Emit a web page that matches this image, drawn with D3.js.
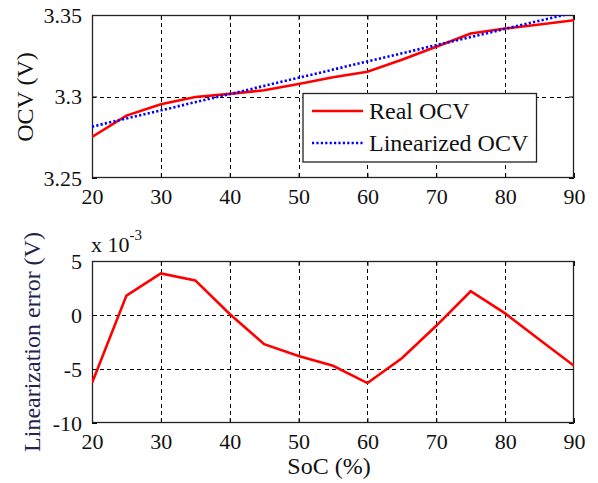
<!DOCTYPE html>
<html>
<head>
<meta charset="utf-8">
<script src="https://cdn.jsdelivr.net/npm/d3@7"></script>
<style>
  html, body { margin: 0; padding: 0; background: #fff; }
  svg { display: block; }
</style>
</head>
<body>
<svg id="chart" width="598" height="483"></svg>
<script>
// State of charge sample points (%)
const soc = [20, 25, 30, 35, 40, 45, 50, 55, 60, 65, 70, 75, 80, 85, 90];
// Measured open-circuit voltage (V)
const realOCV = [3.2752, 3.2883, 3.2953, 3.2997, 3.3016, 3.3038, 3.3077, 3.3118,
                 3.3152, 3.3225, 3.3305, 3.3387, 3.3417, 3.3442, 3.3468];
// Linear fit of the OCV curve (V)
const linOCV = [3.2815, 3.2865, 3.2915, 3.2965, 3.3015, 3.3065, 3.3115, 3.3165,
                3.3215, 3.3265, 3.3315, 3.3365, 3.3415, 3.3465, 3.3515];
// Linearization error, real minus linear (x 10^-3 V)
const linError = [-6.3, 1.8, 3.85, 3.2, 0.1, -2.7, -3.8, -4.7, -6.3, -4.0, -1.0, 2.2, 0.15, -2.3, -4.7];

const xTicks = [20, 30, 40, 50, 60, 70, 80, 90];
const topYTicks = [3.25, 3.3, 3.35];
const topYTickLabels = ["3.25", "3.3", "3.35"];
const botYTicks = [-10, -5, 0, 5];
const legendLabels = ["Real OCV", "Linearized OCV"];

const FONT = "'Liberation Serif', 'Times New Roman', 'DejaVu Serif', serif";

const svg = d3.select("#chart");
const left = 92, right = 574;

function label(sel, size, color) {
  return sel.style("font-family", FONT).style("font-size", size + "px").style("fill", color || "#111");
}

function panel(top, bottom, yDomain, yTicks, yLabels, id) {
  const x = d3.scaleLinear().domain([20, 90]).range([left, right]);
  const y = d3.scaleLinear().domain(yDomain).range([bottom, top]);
  const g = svg.append("g");

  g.append("clipPath").attr("id", id)
    .append("rect").attr("x", left).attr("y", top)
    .attr("width", right - left).attr("height", bottom - top);

  // dashed grid
  const grid = g.append("g").attr("stroke", "#000").attr("stroke-width", 1)
    .attr("stroke-dasharray", "4,3.5").attr("shape-rendering", "crispEdges");
  xTicks.slice(1, -1).forEach(v => {
    grid.append("line").attr("x1", Math.round(x(v)) + 0.5).attr("x2", Math.round(x(v)) + 0.5)
      .attr("y1", top).attr("y2", bottom);
  });
  yTicks.filter(v => v > yDomain[0] && v < yDomain[1]).forEach(v => {
    grid.append("line").attr("y1", Math.round(y(v)) + 0.5).attr("y2", Math.round(y(v)) + 0.5)
      .attr("x1", left).attr("x2", right);
  });

  // axes with inward ticks, on all four sides
  const tickLen = 5;
  const xb = g.append("g").attr("transform", `translate(0,${bottom})`)
    .call(d3.axisBottom(x).tickValues(xTicks).tickSize(-tickLen).tickPadding(tickLen + 5).tickFormat(d3.format("d")));
  const xt = g.append("g").attr("transform", `translate(0,${top})`)
    .call(d3.axisTop(x).tickValues(xTicks).tickSize(-tickLen).tickFormat(""));
  const yl = g.append("g").attr("transform", `translate(${left},0)`)
    .call(d3.axisLeft(y).tickValues(yTicks).tickSize(-tickLen).tickPadding(tickLen + 5)
      .tickFormat((d, i) => yLabels[i]));
  const yr = g.append("g").attr("transform", `translate(${right},0)`)
    .call(d3.axisRight(y).tickValues(yTicks).tickSize(-tickLen).tickFormat(""));
  [xb, xt, yl, yr].forEach(a => {
    a.attr("font-family", null).attr("font-size", null);
    a.select(".domain").remove();
    a.selectAll("line").attr("stroke", "#000");
    label(a.selectAll("text"), 22);
  });
  xb.selectAll("text").attr("dy", "0.72em");

  g.append("rect").attr("x", left + 0.5).attr("y", top + 0.5)
    .attr("width", right - left - 1).attr("height", bottom - top - 1)
    .attr("fill", "none").attr("stroke", "#222").attr("stroke-width", 1.3);

  return { x, y, g };
}

// ---- upper panel: OCV ----
const p1 = panel(15, 178, [3.25, 3.35], topYTicks, topYTickLabels, "clipTop");
const lineTop = d3.line().x((d, i) => p1.x(soc[i])).y(d => p1.y(d));
const plot1 = p1.g.append("g").attr("clip-path", "url(#clipTop)");
plot1.append("path").datum(realOCV).attr("d", lineTop)
  .attr("fill", "none").attr("stroke", "#ff0000").attr("stroke-width", 2.6);
plot1.append("path").datum(linOCV).attr("d", lineTop)
  .attr("fill", "none").attr("stroke", "#0000ff").attr("stroke-width", 2.6)
  .attr("stroke-dasharray", "2.2,2.2");

label(svg.append("text").attr("transform", `translate(33,97) rotate(-90)`)
  .attr("text-anchor", "middle"), 24).text("OCV (V)");

// legend
const lg = svg.append("g");
lg.append("rect").attr("x", 303).attr("y", 93.5).attr("width", 233.5).attr("height", 68.5)
  .attr("fill", "#fff").attr("stroke", "#222").attr("stroke-width", 1.3);
const legendStyles = [
  { color: "#ff0000", dash: null },
  { color: "#0000ff", dash: "2.2,2.2" }
];
legendLabels.forEach((lab, i) => {
  const cy = 111 + i * 32;
  lg.append("line").attr("x1", 312).attr("x2", 363).attr("y1", cy).attr("y2", cy)
    .attr("stroke", legendStyles[i].color).attr("stroke-width", 2.6)
    .attr("stroke-dasharray", legendStyles[i].dash);
  label(lg.append("text").attr("x", 369).attr("y", cy + 8), 24).text(lab);
});

// ---- lower panel: linearization error ----
const p2 = panel(261, 423, [-10, 5], botYTicks, botYTicks.map(String), "clipBot");
const lineBot = d3.line().x((d, i) => p2.x(soc[i])).y(d => p2.y(d));
p2.g.append("g").attr("clip-path", "url(#clipBot)")
  .append("path").datum(linError).attr("d", lineBot)
  .attr("fill", "none").attr("stroke", "#ff0000").attr("stroke-width", 2.6);

// exponent note
const ex = label(svg.append("text").attr("x", 91).attr("y", 252), 22);
ex.append("tspan").text("x 10");
ex.append("tspan").style("font-size", "15px").attr("dy", -12).text("-3");

label(svg.append("text").attr("transform", `translate(40,342) rotate(-90)`)
  .attr("text-anchor", "middle"), 24, "#23234f")
  .text("Linearization error (V)");

label(svg.append("text").attr("x", 329).attr("y", 474).attr("text-anchor", "middle"), 24)
  .text("SoC (%)");
</script>
</body>
</html>
